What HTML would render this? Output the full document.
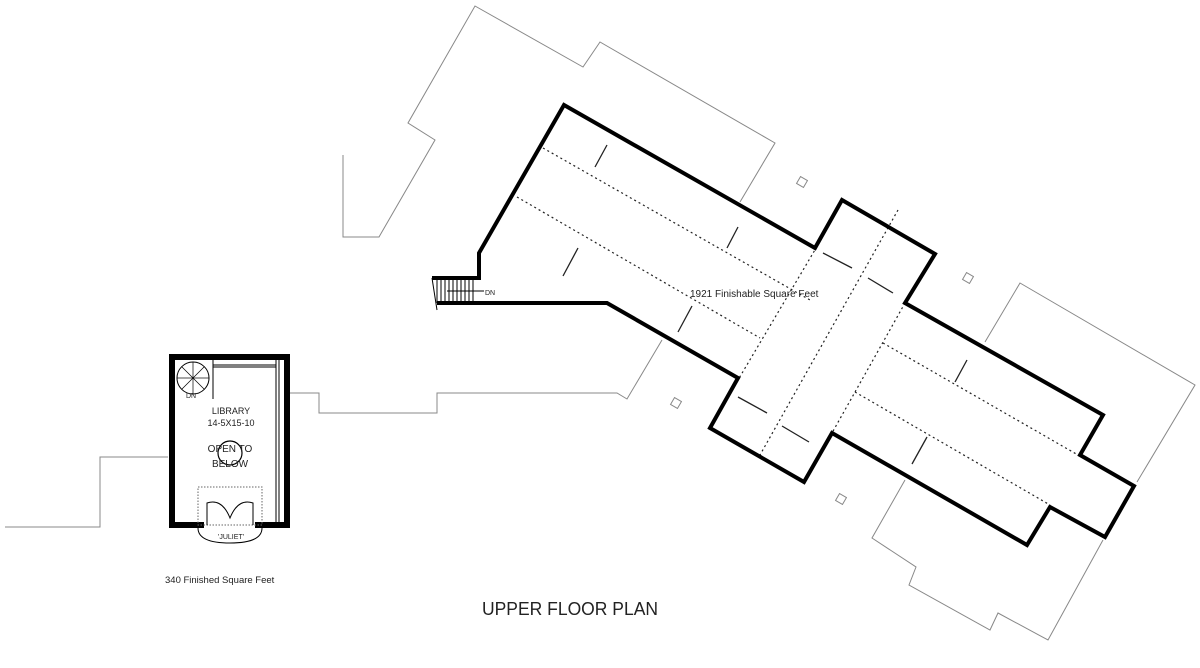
<!DOCTYPE html>
<html><head><meta charset="utf-8"><style>
html,body{margin:0;padding:0;background:#fff;width:1200px;height:668px;overflow:hidden}
svg{display:block}
text{font-family:"Liberation Sans",sans-serif;fill:#222}
</style></head><body>
<svg width="1200" height="668" viewBox="0 0 1200 668" xmlns="http://www.w3.org/2000/svg">
<!-- roof outlines (thin gray) -->
<g fill="none" stroke="#888" stroke-width="1">
<polyline points="343,155 343,237 379,237 435,140 408,123 475,6 583,67 600,42 775,143 740,202"/>
<polyline points="5,527 100,527 100,457 168,457"/>
<polyline points="290,393 319,393 319,413 437,413 437,393 617,393 627,399 662,340"/>
<polyline points="985,342 1020,283 1195,385 1137,482"/>
<polyline points="1103,540 1048,640 998,613 990,630 909,585 916,567 872,538 905,480"/>
<rect x="798" y="178" width="8" height="8" transform="rotate(30 802 182)"/>
<rect x="964" y="274" width="8" height="8" transform="rotate(30 968 278)"/>
<rect x="672" y="399" width="8" height="8" transform="rotate(30 676 403)"/>
<rect x="837" y="495" width="8" height="8" transform="rotate(30 841 499)"/>
</g>
<!-- dotted lines -->
<g fill="none" stroke="#222" stroke-width="1.2" stroke-dasharray="2,3">
<line x1="543" y1="148" x2="810" y2="300"/>
<line x1="517" y1="197" x2="760" y2="338"/>
<line x1="883" y1="343" x2="1078" y2="455"/>
<line x1="855" y1="392" x2="1050" y2="505"/>
<line x1="898" y1="210" x2="760" y2="455"/>
<line x1="822" y1="238" x2="738" y2="380"/>
<line x1="905" y1="303" x2="832" y2="433"/>
</g>
<!-- ticks -->
<g stroke="#222" stroke-width="1.3">
<line x1="607" y1="145" x2="595" y2="167"/>
<line x1="738" y1="227" x2="727" y2="248"/>
<line x1="578" y1="248" x2="563" y2="276"/>
<line x1="692" y1="306" x2="678" y2="332"/>
<line x1="823" y1="253" x2="852" y2="268"/>
<line x1="868" y1="278" x2="893" y2="293"/>
<line x1="738" y1="397" x2="767" y2="413"/>
<line x1="782" y1="426" x2="809" y2="442"/>
<line x1="967" y1="360" x2="955" y2="382"/>
<line x1="927" y1="437" x2="912" y2="464"/>
</g>
<!-- main outline -->
<polyline fill="none" stroke="#000" stroke-width="4" stroke-linejoin="miter"
 points="432,278 479,278 479,253 564,105 815,248 842,200 935,254 905,303 1103,415 1080,455 1134,486 1105,537 1050,507 1027,545 832,433 804,482 710,428 738,378 607,303 437,303"/>
<!-- stairs -->
<g stroke="#000" stroke-width="1">
<line x1="432" y1="278" x2="437" y2="310"/>
<line x1="437" y1="280" x2="437" y2="303"/><line x1="441" y1="280" x2="441" y2="303"/>
<line x1="445" y1="280" x2="445" y2="303"/><line x1="449" y1="280" x2="449" y2="303"/>
<line x1="453" y1="280" x2="453" y2="303"/><line x1="457" y1="280" x2="457" y2="303"/>
<line x1="461" y1="280" x2="461" y2="303"/><line x1="465" y1="280" x2="465" y2="303"/>
<line x1="469" y1="280" x2="469" y2="303"/><line x1="473" y1="280" x2="473" y2="303"/>
<line x1="447" y1="291" x2="484" y2="291"/>
</g>
<text x="485" y="295" font-size="7">DN</text>
<text x="690" y="297" font-size="10" fill="#333">1921 Finishable Square Feet</text>
<!-- library -->
<rect x="172" y="357" width="115" height="168" fill="none" stroke="#000" stroke-width="6"/>
<rect x="204" y="520" width="51" height="10" fill="#fff"/>
<g fill="none" stroke="#000" stroke-width="1">
<line x1="276" y1="360" x2="276" y2="522"/><line x1="279" y1="360" x2="279" y2="522"/>
<line x1="213" y1="365" x2="276" y2="365"/><line x1="213" y1="367" x2="276" y2="367"/>
<line x1="213" y1="360" x2="213" y2="399"/>
<circle cx="193" cy="378" r="16"/>
<g stroke-width="0.7">
<line x1="193" y1="378" x2="209" y2="378"/><line x1="193" y1="378" x2="177" y2="378"/>
<line x1="193" y1="378" x2="193" y2="362"/><line x1="193" y1="378" x2="193" y2="394"/>
<line x1="193" y1="378" x2="204" y2="367"/><line x1="193" y1="378" x2="182" y2="389"/>
<line x1="193" y1="378" x2="182" y2="367"/><line x1="193" y1="378" x2="204" y2="389"/>
</g>
<rect x="198" y="487" width="64" height="38" stroke-dasharray="1.5,1.5" stroke="#666"/>
<path d="M207,525 L207,503 Q222,498 230,518 Q238,498 253,503 L253,525"/>
<path d="M198,528 Q198,543 230,543 Q262,543 262,528"/>
<circle cx="230" cy="453" r="12" stroke-width="1.2"/>
</g>
<text x="186" y="398" font-size="7">DN</text>
<text x="231" y="414" font-size="9" text-anchor="middle">LIBRARY</text>
<text x="231" y="426" font-size="9" text-anchor="middle">14-5X15-10</text>
<text x="230" y="452" font-size="10" text-anchor="middle">OPEN TO</text>
<text x="230" y="467" font-size="10" text-anchor="middle">BELOW</text>
<text x="231" y="539" font-size="7" text-anchor="middle">'JULIET'</text>
<text x="165" y="583" font-size="9.5" fill="#333">340 Finished Square Feet</text>
<text x="482" y="615" font-size="18" textLength="176" lengthAdjust="spacingAndGlyphs">UPPER FLOOR PLAN</text>
</svg>
</body></html>
